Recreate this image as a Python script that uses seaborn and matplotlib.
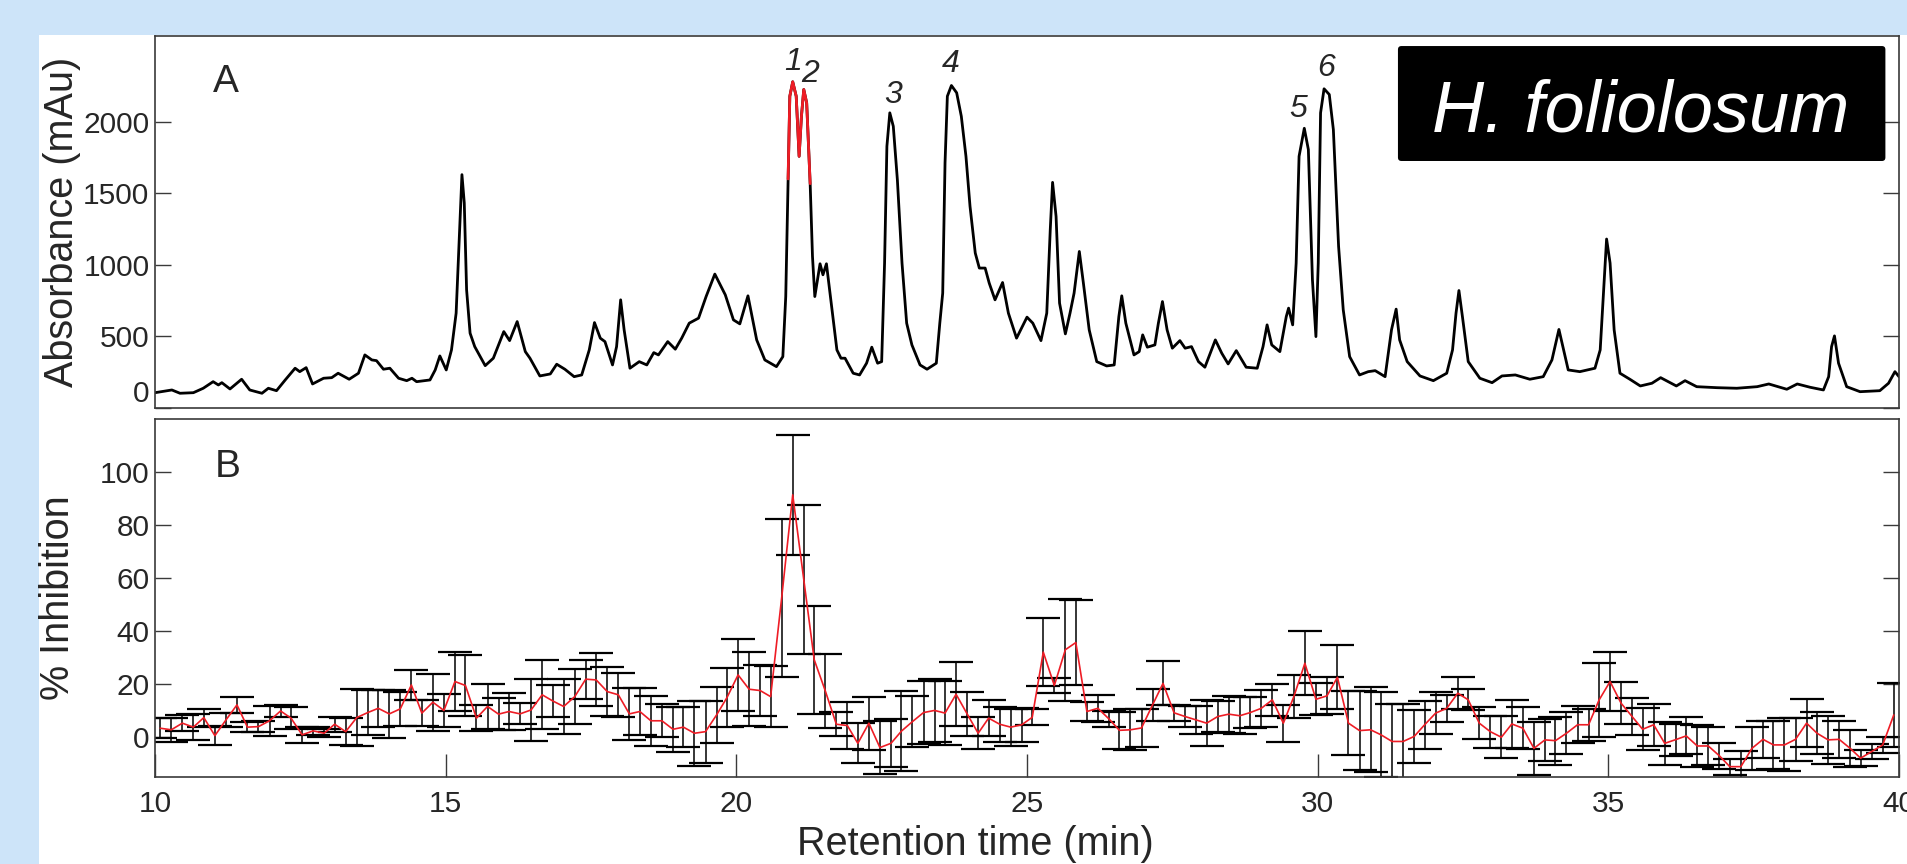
import numpy as np
import pandas as pd
import seaborn as sns
from matplotlib import pyplot as plt
from matplotlib.patches import Rectangle, FancyBboxPatch

sns.set_style("white")
plt.rcParams["font.family"] = ["Liberation Sans", "DejaVu Sans"]

# panel A: HPLC trace (retention time in min, absorbance in mAu)
abs_time = [
    10.00, 10.29, 10.43, 10.66, 10.83, 11.00, 11.09, 11.15, 11.29, 11.49,
    11.63, 11.84, 11.95, 12.09, 12.24, 12.41, 12.49, 12.60, 12.71, 12.90,
    13.04, 13.15, 13.34, 13.50, 13.61, 13.73, 13.81, 13.93, 14.04, 14.19,
    14.33, 14.42, 14.50, 14.73, 14.82, 14.90, 15.01, 15.10, 15.18, 15.24,
    15.28, 15.32, 15.36, 15.42, 15.50, 15.68, 15.82, 16.00, 16.10, 16.23,
    16.37, 16.45, 16.62, 16.80, 16.91, 17.05, 17.21, 17.34, 17.47, 17.56,
    17.66, 17.74, 17.87, 17.94, 18.01, 18.07, 18.17, 18.33, 18.46, 18.58,
    18.66, 18.82, 18.95, 19.06, 19.19, 19.35, 19.48, 19.63, 19.81, 19.95,
    20.06, 20.20, 20.35, 20.49, 20.69, 20.80, 20.85, 20.89, 20.92, 20.97,
    21.03, 21.08, 21.12, 21.16, 21.21, 21.27, 21.31, 21.35, 21.44, 21.49,
    21.55, 21.64, 21.73, 21.80, 21.87, 22.01, 22.12, 22.24, 22.33, 22.43,
    22.50, 22.55, 22.59, 22.64, 22.70, 22.77, 22.85, 22.93, 23.02, 23.16,
    23.28, 23.44, 23.50, 23.55, 23.59, 23.63, 23.70, 23.79, 23.87, 23.95,
    24.02, 24.11, 24.18, 24.28, 24.35, 24.45, 24.58, 24.68, 24.82, 25.00,
    25.10, 25.24, 25.34, 25.40, 25.44, 25.50, 25.56, 25.66, 25.74, 25.81,
    25.90, 25.97, 26.07, 26.20, 26.37, 26.50, 26.58, 26.63, 26.70, 26.84,
    26.93, 26.99, 27.07, 27.20, 27.26, 27.33, 27.41, 27.50, 27.63, 27.72,
    27.83, 27.95, 28.06, 28.24, 28.35, 28.46, 28.60, 28.77, 28.96, 29.06,
    29.13, 29.21, 29.35, 29.46, 29.50, 29.57, 29.63, 29.68, 29.77, 29.84,
    29.91, 29.97, 30.01, 30.05, 30.11, 30.20, 30.27, 30.36, 30.44, 30.55,
    30.72, 30.87, 30.99, 31.16, 31.27, 31.35, 31.41, 31.54, 31.76, 31.99,
    32.22, 32.32, 32.38, 32.43, 32.49, 32.59, 32.79, 33.00, 33.17, 33.40,
    33.65, 33.88, 34.03, 34.15, 34.31, 34.51, 34.77, 34.86, 34.92, 34.97,
    35.03, 35.10, 35.20, 35.37, 35.55, 35.75, 35.90, 36.17, 36.32, 36.52,
    36.87, 37.21, 37.56, 37.76, 38.07, 38.25, 38.47, 38.70, 38.79, 38.84,
    38.89, 38.96, 39.10, 39.33, 39.67, 39.82, 39.93, 40.00,
]
abs_mau = [
    107, 126, 103, 107, 138, 184, 161, 177, 133, 201,
    126, 103, 138, 121, 196, 278, 254, 282, 168, 208,
    212, 243, 201, 243, 371, 336, 331, 271, 278, 208,
    191, 208, 184, 196, 266, 364, 266, 406, 663, 1246,
    1631, 1433, 826, 523, 429, 296, 348, 534, 471, 604,
    394, 348, 224, 238, 306, 271, 219, 231, 406, 597,
    488, 464, 301, 429, 756, 546, 278, 324, 301, 387,
    371, 464, 411, 488, 593, 628, 779, 936, 791, 616,
    588, 784, 476, 336, 289, 359, 779, 1601, 2179, 2280,
    2179, 1759, 2039, 2226, 2133, 1568, 1059, 779, 1008, 931,
    1008, 709, 406, 348, 348, 243, 231, 313, 425, 313,
    324, 1013, 1829, 2063, 1969, 1596, 1013, 593, 441, 301,
    271, 313, 593, 803, 1713, 2179, 2254, 2203, 2039, 1759,
    1409, 1083, 978, 978, 873, 756, 877, 663, 488, 635,
    593, 471, 663, 1246, 1577, 1339, 733, 518, 663, 803,
    1094, 873, 546, 324, 294, 301, 639, 784, 593, 371,
    394, 511, 425, 441, 593, 744, 546, 418, 471, 418,
    429, 324, 285, 476, 383, 308, 401, 285, 278, 429,
    581, 441, 394, 639, 698, 581, 1013, 1759, 1955, 1806,
    896, 499, 1013, 2063, 2231, 2191, 1946, 1129, 686, 359,
    231, 254, 261, 219, 546, 691, 476, 324, 224, 191,
    243, 406, 663, 821, 639, 324, 208, 177, 224, 231,
    201, 219, 336, 549, 266, 254, 278, 406, 826, 1181,
    1013, 546, 243, 201, 154, 173, 212, 154, 191, 149,
    142, 138, 149, 168, 131, 168, 145, 126, 219, 429,
    504, 313, 149, 114, 121, 173, 254, 219,
]
active_window = (20.89, 21.27)

# panel B: inhibition per collected fraction (fraction mid-times)
frac_time = [
    10.09, 10.28, 10.47, 10.66, 10.84, 11.03, 11.22, 11.41, 11.59, 11.78, 11.97, 12.16, 12.34, 12.53, 12.72, 12.91,
    13.09, 13.28, 13.47, 13.66, 13.84, 14.03, 14.22, 14.41, 14.59, 14.78, 14.97, 15.16, 15.34, 15.53, 15.72, 15.91,
    16.09, 16.28, 16.47, 16.66, 16.84, 17.03, 17.22, 17.41, 17.59, 17.78, 17.97, 18.16, 18.34, 18.53, 18.72, 18.91,
    19.09, 19.28, 19.47, 19.66, 19.84, 20.03, 20.22, 20.41, 20.59, 20.78, 20.97, 21.16, 21.34, 21.53, 21.72, 21.91,
    22.09, 22.28, 22.47, 22.66, 22.84, 23.03, 23.22, 23.41, 23.59, 23.78, 23.97, 24.16, 24.34, 24.53, 24.72, 24.91,
    25.09, 25.28, 25.47, 25.66, 25.84, 26.03, 26.22, 26.41, 26.59, 26.78, 26.97, 27.16, 27.34, 27.53, 27.72, 27.91,
    28.09, 28.28, 28.47, 28.66, 28.84, 29.03, 29.22, 29.41, 29.59, 29.78, 29.97, 30.16, 30.34, 30.53, 30.72, 30.91,
    31.09, 31.28, 31.47, 31.66, 31.84, 32.03, 32.22, 32.41, 32.59, 32.78, 32.97, 33.16, 33.34, 33.53, 33.72, 33.91,
    34.09, 34.28, 34.47, 34.66, 34.84, 35.03, 35.22, 35.41, 35.59, 35.78, 35.97, 36.16, 36.34, 36.53, 36.72, 36.91,
    37.09, 37.28, 37.47, 37.66, 37.84, 38.03, 38.22, 38.41, 38.59, 38.78, 38.97, 39.16, 39.34, 39.53, 39.72, 39.91,
]
inhib_mean = [
    3.4, 2.8, 5.3, 3.8, 7.4, 0.6, 6.5, 12.2, 3.8, 4.0, 6.2, 9.9, 7.2, 0.9, 2.4, 1.5,
    4.9, 2.1, 7.4, 9.3, 10.9, 8.8, 10.7, 19.7, 9.1, 13.2, 10.1, 21.0, 19.5, 7.2, 11.6, 8.7,
    9.7, 8.8, 10.3, 16.0, 13.7, 11.6, 15.3, 21.9, 21.6, 17.2, 16.0, 8.8, 9.7, 6.2, 6.2, 3.0,
    3.8, 1.5, 2.1, 8.4, 15.0, 23.5, 18.1, 17.6, 15.3, 52.6, 91.4, 59.5, 29.2, 17.5, 4.9, 4.4,
    -2.3, 5.3, -3.9, -2.3, 2.3, 5.9, 9.3, 10.1, 9.1, 16.2, 8.8, 1.5, 7.2, 4.9, 3.8, 4.7,
    7.5, 32.1, 19.5, 33.0, 35.7, 9.7, 10.9, 6.9, 2.6, 2.8, 3.5, 12.2, 20.3, 9.2, 7.8, 6.5,
    5.3, 7.8, 8.7, 8.1, 9.3, 10.9, 14.1, 5.3, 15.3, 27.9, 14.3, 15.6, 22.6, 5.3, 2.5, 2.8,
    0.9, -1.6, -1.6, 0.3, 4.7, 9.1, 10.9, 16.6, 14.1, 5.3, 2.1, 0.0, 5.0, 3.4, -4.2, -1.0,
    -1.3, 1.5, 4.7, 4.7, 14.0, 21.0, 12.8, 7.8, 3.0, 4.7, -2.3, -0.9, 0.5, -3.3, -3.3, -7.0,
    -11.1, -11.1, -4.2, -0.8, -2.9, -2.9, -0.8, 5.3, 1.5, -1.0, -0.8, -4.2, -7.9, -5.4, -2.9, 8.4,
]
inhib_err = [
    3.8, 4.5, 3.0, 5.0, 3.4, 3.5, 2.6, 3.0, 2.0, 2.0, 5.6, 2.3, 4.2, 2.9, 1.5, 1.5,
    2.9, 5.2, 10.8, 8.6, 7.0, 9.0, 6.5, 5.7, 5.0, 10.7, 6.3, 11.3, 11.6, 5.0, 8.6, 6.0,
    7.0, 4.0, 11.6, 13.0, 6.0, 10.5, 10.3, 7.3, 10.0, 9.2, 8.4, 9.9, 9.0, 9.4, 6.3, 8.4,
    7.6, 12.3, 11.7, 10.6, 11.1, 13.6, 13.9, 9.5, 11.5, 29.8, 22.5, 28.0, 20.4, 14.0, 4.5, 8.8,
    7.5, 10.0, 10.0, 9.0, 15.0, 9.5, 11.8, 12.0, 12.0, 12.0, 8.3, 6.0, 6.7, 6.6, 7.0, 6.5,
    3.0, 12.7, 3.0, 19.2, 16.0, 3.7, 5.0, 3.0, 7.0, 7.7, 7.2, 6.0, 8.3, 3.0, 3.8, 5.4,
    8.6, 6.0, 7.0, 7.0, 6.0, 7.0, 6.0, 7.0, 8.0, 12.0, 6.0, 7.0, 12.0, 12.0, 15.0, 16.0,
    16.0, 14.0, 14.0, 10.0, 9.0, 8.0, 5.0, 6.0, 4.0, 6.0, 6.0, 8.0, 9.0, 8.0, 10.0, 8.0,
    9.0, 8.0, 7.0, 6.0, 14.0, 11.0, 8.0, 7.0, 8.0, 8.0, 8.0, 6.0, 7.0, 8.0, 7.0, 5.0,
    3.0, 6.0, 8.0, 7.0, 9.0, 10.0, 8.0, 9.0, 8.0, 9.0, 7.0, 7.0, 3.0, 3.0, 3.0, 12.0,
]

# peak labels: (label, time, baseline height in mAu)
peaks = [("1", 20.97, 2359), ("2", 21.27, 2275), ("3", 22.70, 2135),
         ("4", 23.68, 2345), ("5", 29.66, 2037), ("6", 30.14, 2317)]

RED = "#ee1c25"
SPINE = "#3a3a3a"
W, H = 1908, 864

fig = plt.figure(figsize=(W / 100, H / 100), dpi=100)
fig.patch.set_facecolor("#cde4f9")
fig.add_artist(Rectangle((39 / W, 0), 1 - 39 / W, 1 - 35 / H, transform=fig.transFigure,
                         fc="white", ec="none", zorder=-1))

ax1 = fig.add_axes([155 / W, 1 - 408 / H, 1744 / W, 372 / H])
ax2 = fig.add_axes([155 / W, 1 - 777 / H, 1744 / W, 358 / H])

# --- panel A
df_abs = pd.DataFrame({"t": abs_time, "mAu": abs_mau})
sns.lineplot(data=df_abs, x="t", y="mAu", color="black", lw=2.0, ax=ax1)
red_part = df_abs[(df_abs.t >= active_window[0]) & (df_abs.t <= active_window[1])]
sns.lineplot(data=red_part, x="t", y="mAu", color=RED, lw=2.0, ax=ax1)

ax1.set_xlim(10, 40)
ax1.set_ylim(0, 2600)
ax1.set_xticks([])
ax1.set_yticks([0, 500, 1000, 1500, 2000])
ax1.set_yticklabels(["0", "500", "1000", "1500", "2000"])
ax1.tick_params(axis="y", direction="in", length=11.5, width=1, color=SPINE,
                left=True, right=True, labelsize=21.5, pad=4)
ax1.yaxis.get_major_ticks()[0].label1.set_verticalalignment("bottom")
ax1.set_xlabel("")
ax1.set_ylabel("Absorbance (mAu)", fontsize=28.5)
ax1.yaxis.set_label_coords((62 - 155) / 1744, 0.5)
ax1.yaxis.label.set_va("center")
ax1.text(0.0333, 0.849, "A", transform=ax1.transAxes, fontsize=28, va="baseline", ha="left")
for lab, x, y in peaks:
    ax1.text(x, y, lab, ha="center", va="baseline", fontsize=23, style="italic")

ax1.add_patch(FancyBboxPatch((0.7127, 0.664), 0.2795, 0.309,
                             boxstyle="round,pad=0,rounding_size=0.002",
                             mutation_aspect=1744 / 372, transform=ax1.transAxes,
                             fc="black", ec="none", zorder=4))
ax1.text(0.852, 0.742, "H. foliolosum", transform=ax1.transAxes, ha="center", va="baseline",
         color="white", fontsize=52, style="italic", zorder=5)

# --- panel B
ax2.errorbar(frac_time, inhib_mean, yerr=inhib_err, fmt="none", ecolor="black",
             elinewidth=1.1, capsize=12, capthick=1.6, zorder=2)
sns.lineplot(x=frac_time, y=inhib_mean, color=RED, lw=1.2, ax=ax2, zorder=3)

ax2.set_xlim(10, 40)
ax2.set_ylim(-15, 120)
ax2.set_xticks([10, 15, 20, 25, 30, 35, 40])
ax2.set_yticks([0, 20, 40, 60, 80, 100])
ax2.tick_params(axis="y", direction="in", length=11.5, width=1, color=SPINE,
                left=True, right=True, labelsize=21.5, pad=4)
ax2.tick_params(axis="x", direction="in", length=16.5, width=1, color=SPINE,
                bottom=True, labelsize=21.5, pad=9)
ax2.set_xlabel("")
ax2.set_ylabel("% Inhibition", fontsize=28.5)
ax2.yaxis.set_label_coords((58 - 155) / 1744, 0.5)
ax2.yaxis.label.set_va("center")
ax2.text(0.0344, 0.838, "B", transform=ax2.transAxes, fontsize=28, va="baseline", ha="left")

for ax in (ax1, ax2):
    for sp in ax.spines.values():
        sp.set_color(SPINE)
        sp.set_linewidth(1.2)
        sp.set_visible(True)

fig.text(975 / W, 9 / H, "Retention time (min)", ha="center", va="baseline", fontsize=28.5)

fig.savefig("out.png", dpi=100, facecolor=fig.get_facecolor())
